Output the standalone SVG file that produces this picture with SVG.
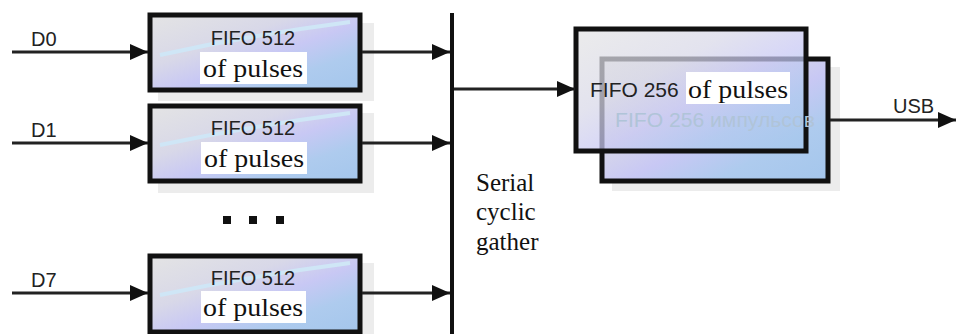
<svg xmlns="http://www.w3.org/2000/svg" width="958" height="334" viewBox="0 0 958 334">
<defs>
<linearGradient id="g" x1="0" y1="0" x2="1" y2="1">
<stop offset="0" stop-color="#e4e4e4"/>
<stop offset="0.35" stop-color="#d8d8e8"/>
<stop offset="0.55" stop-color="#c8c8f4"/>
<stop offset="0.75" stop-color="#aecbee"/>
<stop offset="1" stop-color="#a4c6ec"/>
</linearGradient>
<marker id="ahb" viewBox="0 0 18 16" refX="18" refY="8" markerWidth="18" markerHeight="16" markerUnits="userSpaceOnUse" orient="auto">
<path d="M0,0 L18,8 L0,16 Z" fill="#111"/>
</marker>
</defs>
<style>
.shadow{fill:#ececec}
.box{fill:url(#g);stroke:#111;stroke-width:5}
.sans{font-family:"Liberation Sans",Arial,sans-serif;fill:#222}
.serif{font-family:"Liberation Serif","Times New Roman",serif;fill:#111}
.line{stroke:#222;stroke-width:3;fill:none}
.wbg{fill:#fff}
.arc{stroke:#cfe6f6;stroke-width:4;fill:none}
</style>
<rect width="958" height="334" fill="#fff"/>

<g id="fifo0">
<rect class="shadow" x="158" y="23" width="216" height="78"/>
<rect class="box" x="150" y="15" width="210" height="75"/>
<path class="arc" d="M160,55 Q250,35 350,22"/>
<text class="sans" x="253" y="45" font-size="20" text-anchor="middle">FIFO 512</text>
<rect class="wbg" x="200" y="52" width="107" height="32"/>
<text class="serif" x="253" y="77" font-size="26" text-anchor="middle" textLength="100" lengthAdjust="spacingAndGlyphs">of pulses</text>
</g>

<g id="fifo1">
<rect class="shadow" x="158" y="113" width="216" height="80"/>
<rect class="box" x="150" y="106" width="210" height="75"/>
<path class="arc" d="M160,145 Q250,126 350,113"/>
<text class="sans" x="253" y="135" font-size="20" text-anchor="middle">FIFO 512</text>
<rect class="wbg" x="201" y="142" width="106" height="32"/>
<text class="serif" x="254" y="167" font-size="26" text-anchor="middle" textLength="100" lengthAdjust="spacingAndGlyphs">of pulses</text>
</g>

<g id="dots">
<rect x="223" y="216" width="8" height="8" fill="#111"/>
<rect x="249" y="216" width="8" height="8" fill="#111"/>
<rect x="276" y="216" width="8" height="8" fill="#111"/>
</g>

<g id="fifo7">
<rect class="shadow" x="158" y="263" width="216" height="78"/>
<rect class="box" x="150" y="256" width="210" height="76"/>
<path class="arc" d="M160,295 Q250,276 350,263"/>
<text class="sans" x="253" y="285" font-size="20" text-anchor="middle">FIFO 512</text>
<rect class="wbg" x="201" y="291" width="105" height="32"/>
<text class="serif" x="253" y="316" font-size="26" text-anchor="middle" textLength="100" lengthAdjust="spacingAndGlyphs">of pulses</text>
</g>

<g id="gather">
<line x1="452" y1="13" x2="452" y2="334" stroke="#111" stroke-width="4"/>
<text class="serif" font-size="25">
<tspan x="476" y="191">Serial</tspan>
<tspan x="476" y="220">cyclic</tspan>
<tspan x="476" y="250">gather</tspan>
</text>
</g>

<g id="fifo256">
<rect class="shadow" x="612" y="67" width="228" height="124"/>
<rect class="box" x="602" y="59" width="226" height="122"/>
<rect x="576" y="29" width="230" height="122" fill="url(#g)" fill-opacity="0.72" stroke="#111" stroke-width="5"/>
<text class="sans" x="615" y="127" font-size="21" textLength="200" lengthAdjust="spacingAndGlyphs" style="fill:#b0c4d8">FIFO 256 импульсов</text>
<text class="sans" x="590" y="97" font-size="21">FIFO 256</text>
<rect class="wbg" x="686" y="72" width="104" height="32"/>
<text class="serif" x="688" y="98" font-size="26" textLength="100" lengthAdjust="spacingAndGlyphs">of pulses</text>
</g>

<g id="connectors">
<line class="line" x1="12" y1="52" x2="148" y2="52" marker-end="url(#ahb)"/>
<line class="line" x1="12" y1="143" x2="148" y2="143" marker-end="url(#ahb)"/>
<line class="line" x1="12" y1="293" x2="148" y2="293" marker-end="url(#ahb)"/>
<line class="line" x1="362" y1="52" x2="450" y2="52" marker-end="url(#ahb)"/>
<line class="line" x1="362" y1="143" x2="450" y2="143" marker-end="url(#ahb)"/>
<line class="line" x1="362" y1="293" x2="450" y2="293" marker-end="url(#ahb)"/>
<line class="line" x1="454" y1="89" x2="575" y2="89" marker-end="url(#ahb)"/>
<line class="line" x1="830" y1="120" x2="956" y2="120" marker-end="url(#ahb)"/>
<text class="sans" x="31" y="46" font-size="20">D0</text>
<text class="sans" x="31" y="137" font-size="20">D1</text>
<text class="sans" x="31" y="287" font-size="20">D7</text>
<text class="sans" x="893" y="113" font-size="20">USB</text>
</g>
</svg>
